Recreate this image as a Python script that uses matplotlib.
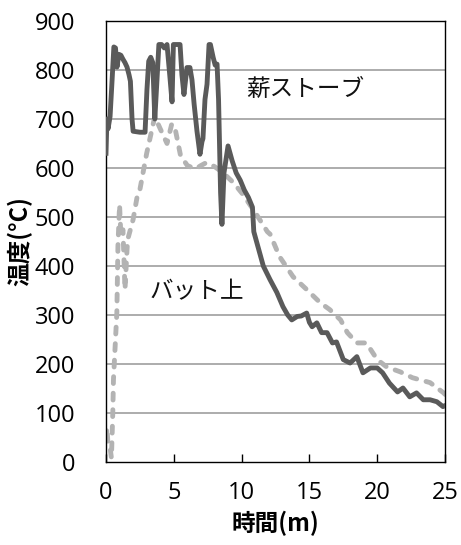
import matplotlib
matplotlib.use("Agg")
import matplotlib.pyplot as plt

# Dark solid series: 薪ストーブ
stove_t = [0.0, 0.07, 0.15, 0.3, 0.45, 0.58, 0.7, 0.81, 0.95, 1.1, 1.25, 1.4, 1.55, 1.7, 1.8,
           1.92, 2.0, 2.5, 2.88, 3.02, 3.15, 3.3, 3.45, 3.6, 3.76, 3.9, 4.1, 4.3, 4.5, 4.7, 4.87,
           4.97, 5.46, 5.6, 5.75, 5.97, 6.19, 6.34, 6.5, 6.71, 6.93, 7.08, 7.15, 7.3, 7.45, 7.6,
           7.7, 7.9, 8.05, 8.19, 8.3, 8.45, 8.55, 8.7, 9.0, 9.3, 9.6, 9.9, 10.2, 10.5, 10.8, 10.9,
           11.2, 11.6, 12.1, 12.6, 13.05, 13.4, 13.7, 14.1, 14.4, 14.8, 15.0, 15.2, 15.55, 15.9,
           16.3, 16.7, 17.0, 17.5, 18.0, 18.5, 18.95, 19.5, 20.0, 20.4, 20.9, 21.5, 21.9, 22.4,
           22.9, 23.4, 23.9, 24.4, 24.85, 25.0]
stove_v = [630, 700, 680, 705, 780, 847, 845, 806, 832, 830, 822, 815, 806, 790, 777,
           700, 675, 673, 673, 760, 818, 826, 815, 700, 780, 852, 852, 845, 852, 790, 735,
           852, 852, 790, 750, 805, 805, 780, 730, 675, 628, 654, 660, 740, 771, 852,
           852, 826, 810, 812, 740, 550, 485, 590, 645, 615, 590, 575, 555, 540, 520, 470,
           440, 400, 372, 346, 317, 300, 290, 297, 298, 304, 285, 276, 284, 264,
           264, 243, 245, 209, 202, 215, 182, 192, 192, 182, 161, 143, 151, 133,
           141, 127, 127, 123, 113, 115]

# Light dashed series: バット上
vat_t = [0.0, 0.07, 0.15, 0.3, 0.4, 0.5, 0.55, 0.8, 0.88, 1.0, 1.1, 1.25, 1.4, 1.55, 1.6, 2.0,
         2.3, 2.5, 3.0, 3.6, 4.0, 4.5, 4.85, 5.1, 5.5, 6.0, 6.6, 7.0, 7.4, 8.0, 8.6, 9.4, 10.1,
         11.1, 11.9, 12.1, 12.8, 13.8, 14.8, 15.8, 16.5, 17.3, 17.8, 18.5, 19.2, 20.0, 20.7,
         21.7, 22.6, 23.9, 24.9, 25.0]
vat_v = [50, 70, 35, 30, 8, 100, 168, 305, 440, 525, 460, 474, 352, 433, 454, 495,
         542, 556, 630, 705, 680, 650, 690, 680, 625, 605, 598, 605, 611, 603, 591, 570, 546,
         505, 470, 465, 419, 378, 352, 325, 311, 290, 264, 243, 243, 209, 194,
         184, 172, 162, 141, 138]

x_ticks = [0, 5, 10, 15, 20, 25]
y_ticks = [0, 100, 200, 300, 400, 500, 600, 700, 800, 900]

plt.rcParams['font.family'] = ['Open Sans', 'Noto Sans CJK JP', 'DejaVu Sans']

fig = plt.figure(figsize=(4.61, 5.45), dpi=100)
ax = fig.add_axes([106/461, 83/545, 339/461, 441/545])

for y in y_ticks[1:-1]:
    ax.axhline(y, color='#a6a6a6', lw=1.3, zorder=1)

ax.plot(vat_t, vat_v, color='#b3b3b3', lw=3.5, dashes=(1.4, 2.0),
        dash_capstyle='round', solid_capstyle='round', zorder=2)
ax.plot(stove_t, stove_v, color='#5a5a5a', lw=3.5, solid_joinstyle='round', zorder=3)

ax.set_xlim(0, 25)
ax.set_ylim(0, 900)
ax.set_xticks(x_ticks)
ax.set_yticks(y_ticks)
ax.tick_params(axis='x', direction='in', length=6, width=1, pad=14, labelsize=17)
ax.tick_params(axis='y', length=0, pad=22, labelsize=17)
for s in ax.spines.values():
    s.set_color('#000000')
    s.set_linewidth(1.0)

ax.set_xlabel('時間(m)', family=['Noto Sans CJK JP', 'DejaVu Sans'], fontweight='bold',
              fontsize=17, labelpad=4)
ax.set_ylabel('温度(°C)', family=['Noto Sans CJK JP', 'DejaVu Sans'], fontweight='bold',
              fontsize=17, labelpad=2)

ax.text(14.7, 761, '薪ストーブ', family=['Noto Sans CJK JP'], fontsize=17,
        ha='center', va='center', color='#111111')
ax.text(6.7, 348, 'バット上', family=['Noto Sans CJK JP'], fontsize=17,
        ha='center', va='center', color='#111111')

fig.savefig('out.png', dpi=100, facecolor='white')
